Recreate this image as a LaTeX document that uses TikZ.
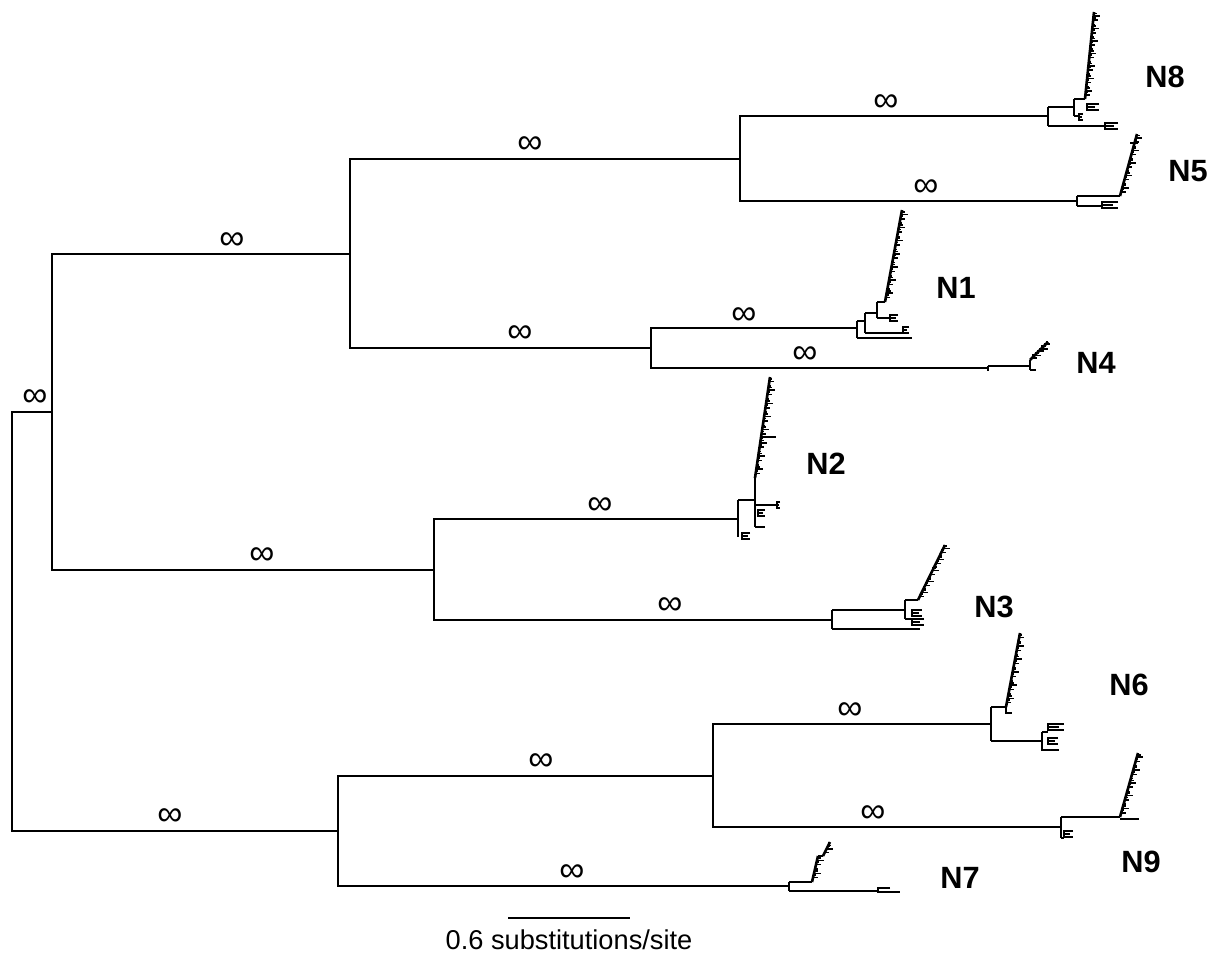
\documentclass[tikz,border=0pt]{standalone}
\usepackage{fontspec}
\setmainfont{Liberation Sans}
\usetikzlibrary{calc}
\def\comb(#1,#2)(#3,#4)#5;{\draw[spine] (#1,#2) -- (#3,#4); \foreach \k in {1,...,#5}{\pgfmathsetmacro\tl{2.5+2*mod(\k,3)} \draw[tip] ($(#1,#2)!{\k/(#5+1)}!(#3,#4)$) -- ++(\tl,0) ++(-\tl,-2.5) -- ++(0.6*\tl,0);}}
\def\fork(#1,#2)#3;{\draw[tip] (#1+#3,#2-3) -- (#1,#2-3) -- (#1,#2+3) -- (#1+#3,#2+3); \draw[tip] (#1,#2) -- (#1+0.7*#3,#2);}

\begin{document}
\begin{tikzpicture}[x=0.02cm, y=-0.02cm,
	branch/.style={line width=1.1pt},
	tip/.style={line width=0.9pt},
	spine/.style={line width=1.5pt},
	inf/.style={font=\fontsize{20}{20}\selectfont, inner sep=0pt},
	clade/.style={font=\fontsize{17.5}{20}\selectfont\bfseries, inner sep=0pt}]
		%%%%% START %%%%%
		\useasboundingbox (0,0) rectangle (1225,954);
		
		\coordinate (r) at (12, 622);
		\coordinate (nA) at (52, 412);
		\coordinate (nB) at (350, 254);
		\coordinate (nC) at (740, 159);
		\coordinate (nD) at (651, 348);
		\coordinate (nE) at (434, 570);
		\coordinate (nF) at (338, 831);
		\coordinate (nG) at (713, 776);
		\coordinate (nN8) at (1048, 116);
		\coordinate (nN5) at (1077, 201);
		\coordinate (nN1) at (857, 328);
		\coordinate (nN4) at (988, 368);
		\coordinate (nN2) at (738, 519);
		\coordinate (nN3) at (832, 620);
		\coordinate (nN6) at (991, 724);
		\coordinate (nN9) at (1061, 827);
		\coordinate (nN7) at (789, 886);
		
		\draw[branch] (r) |- (nA);
		\draw[branch] (r) |- (nF);
		\draw[branch] (nA) |- (nB);
		\draw[branch] (nA) |- (nE);
		\draw[branch] (nB) |- (nC);
		\draw[branch] (nB) |- (nD);
		\draw[branch] (nC) |- (nN8);
		\draw[branch] (nC) |- (nN5);
		\draw[branch] (nD) |- (nN1);
		\draw[branch] (nD) |- (nN4);
		\draw[branch] (nE) |- (nN2);
		\draw[branch] (nE) |- (nN3);
		\draw[branch] (nF) |- (nG);
		\draw[branch] (nF) |- (nN7);
		\draw[branch] (nG) |- (nN6);
		\draw[branch] (nG) |- (nN9);
		
		\node[inf] (iR) at (35, 398) {∞};
		\node[inf] (iA1) at (232, 241) {∞};
		\node[inf] (iA2) at (262, 556) {∞};
		\node[inf] (iB1) at (530, 145) {∞};
		\node[inf] (iB2) at (520, 334) {∞};
		\node[inf] (iC1) at (886, 103) {∞};
		\node[inf] (iC2) at (926, 188) {∞};
		\node[inf] (iD1) at (744, 316) {∞};
		\node[inf] (iD2) at (805, 355) {∞};
		\node[inf] (iE1) at (600, 506) {∞};
		\node[inf] (iE2) at (670, 606) {∞};
		\node[inf] (iF0) at (170, 817) {∞};
		\node[inf] (iF1) at (541, 762) {∞};
		\node[inf] (iF2) at (572, 873) {∞};
		\node[inf] (iG1) at (850, 711) {∞};
		\node[inf] (iG2) at (873, 814) {∞};
		
		% N8
		\draw[tip] (1048,107) -- (1048,126);
		\draw[tip] (1048,107) -- (1074,107);
		\draw[tip] (1074,99) -- (1074,116);
		\draw[tip] (1074,99) -- (1085,99);
		\comb(1085,99)(1094,12)20;
		\fork(1087,107)12;
		\draw[tip] (1074,116) -- (1079,116);
		\fork(1079,117)4;
		\draw[tip] (1048,126) -- (1105,126);
		\fork(1105,126)13;
		
		% N5
		\draw[tip] (1077,196) -- (1077,206);
		\draw[tip] (1077,196) -- (1120,196);
		\comb(1120,196)(1137,134)14;
		\draw[tip] (1130,143) -- (1138,143);
		\draw[tip] (1077,206) -- (1102,206);
		\fork(1102,205)16;
		
		% N1
		\draw[tip] (857,321) -- (857,338);
		\draw[tip] (857,321) -- (865,321);
		\draw[tip] (865,313) -- (865,333);
		\draw[tip] (865,313) -- (877,313);
		\draw[tip] (877,302) -- (877,318);
		\draw[tip] (877,302) -- (885,302);
		\comb(885,302)(902,210)20;
		\draw[tip] (877,318) -- (890,318);
		\fork(890,318)8;
		\draw[tip] (865,333) -- (903,333);
		\fork(903,330)6;
		\draw[tip] (857,338) -- (912,338);
		
		% N4
		\draw[tip] (988,366) -- (988,371);
		\draw[tip] (988,366) -- (1030,366);
		\draw[tip] (1030,360) -- (1030,370);
		\draw[tip] (1030,370) -- (1036,370);
		\comb(1030,360)(1048,342)7;
		
		% N2
		\draw[tip] (738,500) -- (738,537);
		\draw[tip] (738,500) -- (755,500);
		\draw[tip] (755,478) -- (755,527);
		\comb(755,478)(770,377)22;
		\draw[tip] (762,437) -- (776,437);
		\draw[tip] (755,505) -- (777,505);
		\fork(777,505)3;
		\fork(758,513)7;
		\draw[tip] (755,527) -- (765,527);
		\fork(742,536)8;
		
		% N3
		\draw[tip] (832,610) -- (832,629);
		\draw[tip] (832,610) -- (905,610);
		\draw[tip] (905,600) -- (905,619);
		\draw[tip] (905,600) -- (918,600);
		\comb(918,600)(945,545)14;
		\draw[tip] (905,619) -- (912,619);
		\fork(912,613)10;
		\fork(912,622)12;
		\draw[tip] (832,629) -- (920,629);
		
		% N6
		\draw[tip] (991,707) -- (991,741);
		\draw[tip] (991,707) -- (1006,707);
		\comb(1006,707)(1020,633)16;
		\draw[tip] (1006,707) -- (1006,713) -- (1012,713);
		\draw[tip] (991,741) -- (1042,741);
		\draw[tip] (1042,732) -- (1042,750) -- (1059,750);
		\draw[tip] (1042,732) -- (1048,732);
		\fork(1048,727)16;
		\fork(1048,741)10;
		
		% N9
		\draw[tip] (1061,817) -- (1061,838);
		\draw[tip] (1061,817) -- (1120,817);
		\comb(1120,817)(1138,753)14;
		\draw[tip] (1120,819) -- (1139,819);
		\draw[tip] (1061,838) -- (1064,838);
		\fork(1064,834)9;
		
		% N7
		\draw[tip] (789,882) -- (789,891);
		\draw[tip] (789,882) -- (812,882);
		\comb(812,882)(818,856)5;
		\draw[tip] (818,856) -- (823,856);
		\comb(823,856)(830,842)3;
		\draw[tip] (789,891) -- (878,891);
		\draw[tip] (890,888) -- (878,888) -- (878,892) -- (900,892);
		
		\node[clade] (N8) at (1165, 77) {N8};
		\node[clade] (N5) at (1188, 171) {N5};
		\node[clade] (N1) at (956, 288) {N1};
		\node[clade] (N4) at (1096, 363) {N4};
		\node[clade] (N2) at (826, 464) {N2};
		\node[clade] (N3) at (994, 607) {N3};
		\node[clade] (N6) at (1129, 685) {N6};
		\node[clade] (N9) at (1141, 862) {N9};
		\node[clade] (N7) at (960, 878) {N7};
		
		\coordinate (sb1) at (508, 918);
		\coordinate (sb2) at (630, 918);
		\draw[branch] (sb1) -- (sb2);
		\node[font=\fontsize{15.5}{18}\selectfont, inner sep=0pt] (sbt) at (569, 940) {0.6 substitutions/site};
		
		%%%%% END %%%%%
\end{tikzpicture}
\end{document}
